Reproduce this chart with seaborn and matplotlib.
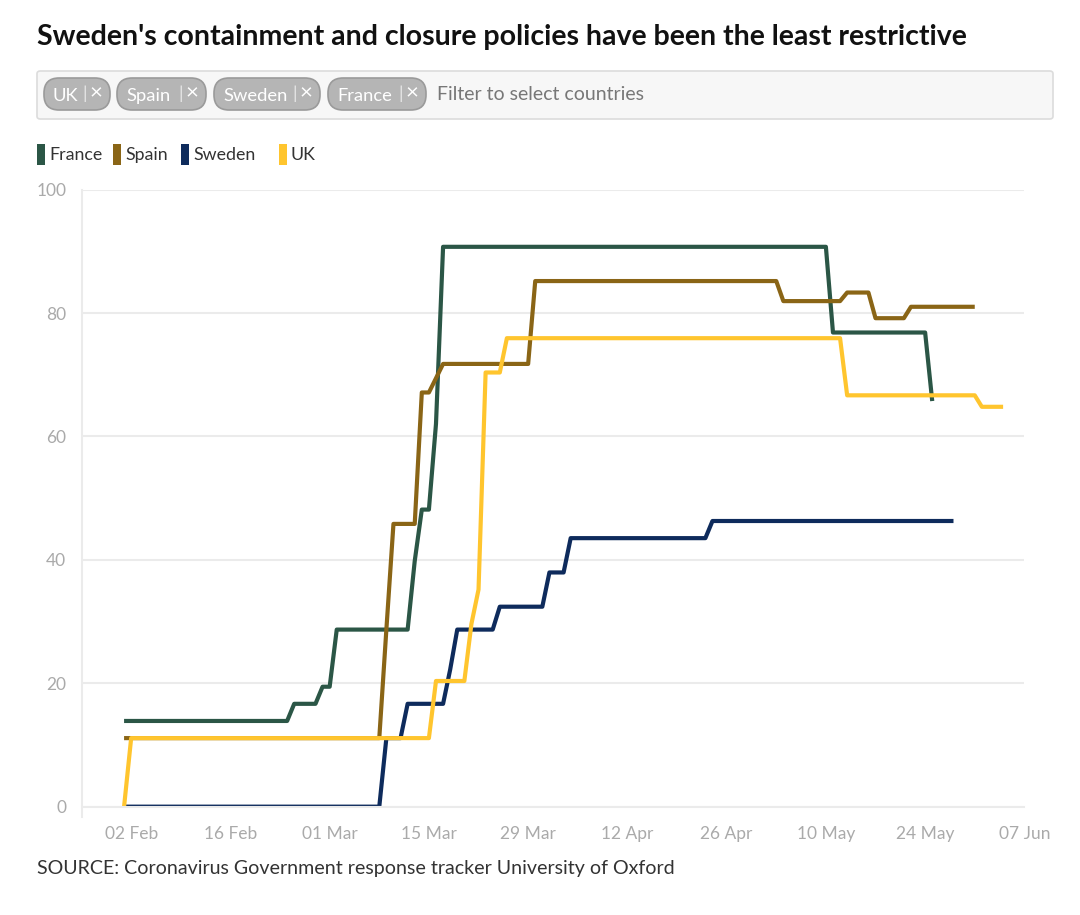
import pandas as pd
import numpy as np
import matplotlib.pyplot as plt
from matplotlib.patches import FancyBboxPatch, Rectangle
import seaborn as sns

# Oxford stringency index, values at the days where they change
france_dates = ["2020-02-01", "2020-02-25", "2020-02-29", "2020-03-02", "2020-03-13",
                "2020-03-14", "2020-03-16", "2020-03-17", "2020-05-11", "2020-05-25"]
france_values = [13.89, 16.67, 19.44, 28.70, 39.81, 48.15, 62.04, 90.74, 76.85, 65.74]

spain_dates = ["2020-02-01", "2020-03-09", "2020-03-10", "2020-03-14", "2020-03-16",
               "2020-03-17", "2020-03-30", "2020-05-04", "2020-05-13", "2020-05-17",
               "2020-05-22", "2020-05-31"]
spain_values = [11.11, 28.70, 45.83, 67.13, 69.44, 71.76, 85.19, 81.94, 83.33, 79.17,
                81.02, 81.02]

sweden_dates = ["2020-02-01", "2020-03-09", "2020-03-12", "2020-03-18", "2020-03-19",
                "2020-03-25", "2020-04-01", "2020-04-04", "2020-04-24", "2020-05-28"]
sweden_values = [0.00, 11.11, 16.67, 22.22, 28.70, 32.41, 37.96, 43.52, 46.30, 46.30]

uk_dates = ["2020-02-01", "2020-02-02", "2020-03-16", "2020-03-21", "2020-03-22",
            "2020-03-23", "2020-03-26", "2020-05-13", "2020-06-01", "2020-06-04"]
uk_values = [0.00, 11.11, 20.37, 29.63, 35.19, 70.37, 75.93, 66.67, 64.81, 64.81]

countries = ["France", "Spain", "Sweden", "UK"]
colors = ["#2b5646", "#8a6516", "#0e2b5c", "#ffc52e"]
filter_tags = ["UK", "Spain", "Sweden", "France"]

series = {"France": (france_dates, france_values),
          "Spain": (spain_dates, spain_values),
          "Sweden": (sweden_dates, sweden_values),
          "UK": (uk_dates, uk_values)}

# index holds its value until the next change -> daily rows
frames = []
for name, (d, v) in series.items():
    s = pd.Series(v, index=pd.to_datetime(d)).resample("D").ffill()
    frames.append(pd.DataFrame({"date": s.index, "value": s.values, "country": name}))
df = pd.concat(frames, ignore_index=True)

sns.set_style("white")
plt.rcParams["font.family"] = ["Lato", "DejaVu Sans"]

fig = plt.figure(figsize=(10.8, 9.15), dpi=100)
ax = fig.add_axes([0.0755, 0.1184, 0.873, 0.6743])

sns.lineplot(data=df, x="date", y="value", hue="country", hue_order=countries,
             palette=dict(zip(countries, colors)), linewidth=3.0, legend=False, ax=ax,
             solid_capstyle="butt", solid_joinstyle="round")

ax.set_xlim(pd.Timestamp("2020-01-26"), pd.Timestamp("2020-06-07"))
ax.set_ylim(0, 100)
ax.set_xlabel("")
ax.set_ylabel("")

weeks = pd.date_range("2020-01-26", "2020-06-07", freq="7D")
ax.set_xticks(weeks)
labels = []
for i, w in enumerate(weeks):
    labels.append(w.strftime("%d %b") if i % 2 == 1 else "")
ax.set_xticklabels(labels)
ax.set_yticks(range(0, 101, 20))

grid_c = "#ebebeb"
ax.grid(axis="y", color=grid_c, linewidth=1.5)
ax.grid(axis="x", visible=False)
ax.set_axisbelow(True)
for sp in ["top", "right"]:
    ax.spines[sp].set_visible(False)
ax.spines["left"].set_color(grid_c)
ax.spines["left"].set_linewidth(1.5)
ax.spines["bottom"].set_color(grid_c)
ax.spines["bottom"].set_linewidth(1.5)
ax.spines["left"].set_bounds(-1.6, 100)
ax.tick_params(axis="x", length=10, width=1.5, color=grid_c, labelcolor="#aaaaaa",
               labelsize=12.5, pad=4)
ax.tick_params(axis="y", length=8, width=1.5, color=grid_c, labelcolor="#aaaaaa",
               labelsize=12.5, pad=3)

# title and source
fig.text(0.034, 0.960, "Sweden's containment and closure policies have been the least restrictive",
         fontsize=20.5, fontweight="bold", color="#111111", va="center")
fig.text(0.034, 0.051, "SOURCE: Coronavirus Government response tracker University of Oxford",
         fontsize=14.1, color="#333333", va="center")

# filter box
W, H = 1080, 915


def px(x, y):
    return x / W, 1 - y / H


bx, by = px(37, 119)
fig.patches.append(FancyBboxPatch((bx, by), (1053 - 37) / W, 48 / H,
                                  boxstyle="round,pad=0,rounding_size=0.003",
                                  transform=fig.transFigure, facecolor="#f7f7f7",
                                  edgecolor="#dcdcdc", linewidth=1.2))
pill_x = [44, 117, 214, 328]
pill_w = [66, 89, 106, 98]
for tag, x0, w in zip(filter_tags, pill_x, pill_w):
    px0, py0 = px(x0, 110)
    fig.patches.append(FancyBboxPatch((px0, py0), w / W, 32 / H,
                                      boxstyle="round,pad=0,rounding_size=0.014",
                                      transform=fig.transFigure, facecolor="#b5b5b5",
                                      edgecolor="#9a9a9a", linewidth=1.2,
                                      mutation_aspect=W / H))
    tx, ty = px(x0 + 9, 96)
    fig.text(tx, ty, tag, fontsize=13.2, color="white", va="center")
    sx, sy = px(x0 + w - 28, 94)
    fig.text(sx, sy, "|", fontsize=13, color="#e8e8e8", va="center")
    cx, cy = px(x0 + w - 14, 93)
    fig.text(cx, cy, "×", fontsize=16, color="white", va="center", ha="center")
fx, fy = px(437, 94)
fig.text(fx, fy, "Filter to select countries", fontsize=14, color="#777777", va="center")

# legend
leg_x = [37, 113, 181, 279]
for name, c, x0 in zip(countries, colors, leg_x):
    rx, ry = px(x0, 165)
    fig.patches.append(Rectangle((rx, ry), 8 / W, 21 / H, transform=fig.transFigure,
                                 facecolor=c, edgecolor="none"))
    lx, ly = px(x0 + 12, 155)
    fig.text(lx, ly, name, fontsize=12.8, color="#333333", va="center")

fig.savefig("out.png", dpi=100)
